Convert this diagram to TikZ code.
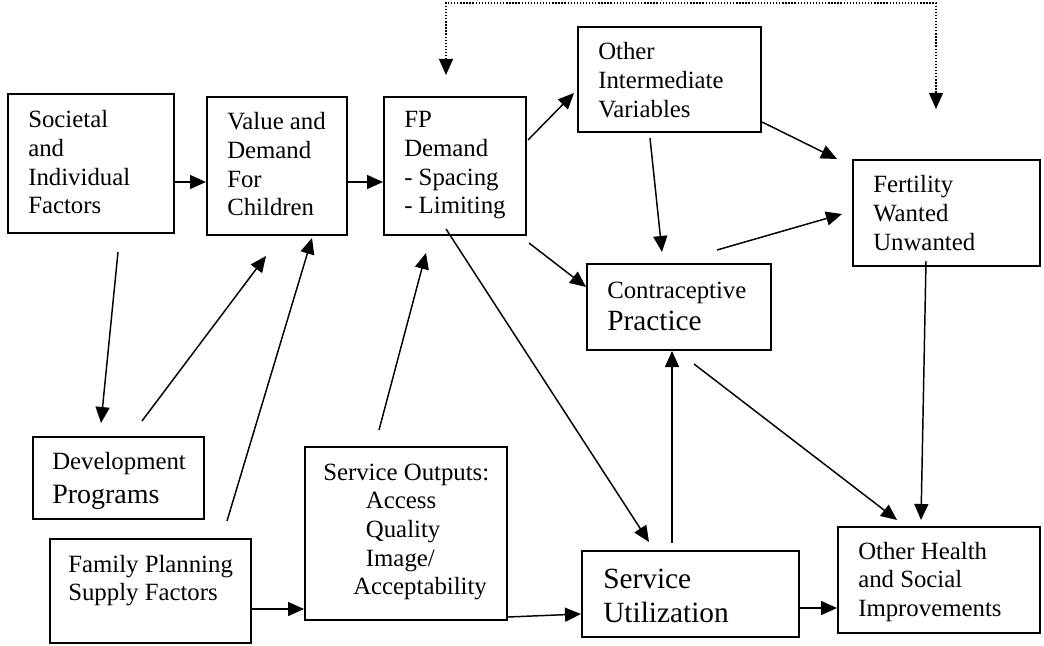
\documentclass[tikz,border=0pt]{standalone}
\usepackage{fontspec}
\setmainfont{Liberation Serif}
\usetikzlibrary{arrows.meta,fit,calc}
\newcommand\lns[1]{\begin{tabular}[t]{@{}l@{}}#1\end{tabular}}
\begin{document}
\begin{tikzpicture}[x=0.75pt,y=-0.75pt,
  boxst/.style={draw, line width=1.5pt, inner sep=0pt},
  txtst/.style={anchor=base west, inner sep=0pt, font=\fontsize{18.6pt}{21.5pt}\selectfont},
  arr/.style={line width=1.1pt, -{Triangle[length=12pt,width=10.5pt]}},
  dotarr/.style={line width=1pt, dash pattern=on 1pt off 1.3pt,
    {Triangle[length=12pt,width=10.5pt]}-{Triangle[length=12pt,width=10.5pt]}}]
\useasboundingbox (0,0) rectangle (1044,645);
% boxes
\node[boxst, fit={(8,94) (174,233)}] (A) {};
\node[boxst, fit={(207,97) (347,235)}] (B) {};
\node[boxst, fit={(384,97) (526,235)}] (FP) {};
\node[boxst, fit={(578,27) (761,132)}] (OIV) {};
\node[boxst, fit={(853,160) (1040,266)}] (FE) {};
\node[boxst, fit={(587,264) (771,350)}] (CP) {};
\node[boxst, fit={(33,437) (204,519)}] (DP) {};
\node[boxst, fit={(50,539) (251,643)}] (FPS) {};
\node[boxst, fit={(305,447) (507,620)}] (SO) {};
\node[boxst, fit={(582,551) (799,637)}] (SU) {};
\node[boxst, fit={(838,527) (1040,633)}] (OH) {};
% texts
\node[txtst] (tA) at (28,128) {\lns{Societal\\and\\Individual\\Factors}};
\node[txtst] (tB) at (227,130) {\lns{Value and\\Demand\\For\\Children}};
\node[txtst] (tFP) at (404,128) {\lns{FP\\Demand\\- Spacing\\- Limiting}};
\node[txtst] (tOIV) at (598,60) {\lns{Other\\Intermediate\\Variables}};
\node[txtst] (tFE) at (873,193) {\lns{Fertility\\Wanted\\Unwanted}};
\node[txtst] (tCP) at (607,298) {\lns{Contraceptive\\[3pt]{\fontsize{22pt}{26pt}\selectfont Practice}}};
\node[txtst] (tDP) at (52,469) {\lns{Development\\[4pt]{\fontsize{21pt}{25pt}\selectfont Programs}}};
\node[txtst] (tFPS) at (68,572) {\lns{Family Planning\\Supply Factors}};
\node[txtst] (tSO) at (323,480) {\lns{Service Outputs:\\\hspace*{32pt}Access\\\hspace*{32pt}Quality\\\hspace*{32pt}Image/\\\hspace*{22.5pt}Acceptability}};
\node[txtst, font=\fontsize{22pt}{25.5pt}\selectfont] (tSU) at (603,588) {\lns{Service\\Utilization}};
\node[txtst] (tOH) at (858,559) {\lns{Other Health\\and Social\\Improvements}};
% connectors
\draw[arr] (A.east |- 0,182) -- (B.west |- 0,182);
\draw[arr] (B.east |- 0,182) -- (FP.west |- 0,182);
\draw[arr] ($(FP.east)+(1,-26)$) -- ($(OIV.west)+(-3,13.5)$);
\draw[arr] ($(OIV.east)+(0,42.5)$) -- ($(FE.north west)+(-15,0)$);
\draw[arr] ($(OIV.south west)+(73,5)$) -- ($(CP.north west)+(76,-11)$);
\draw[arr] ($(CP.north west)+(131,-13)$) -- ($(FE.west)+(-10,1)$);
\draw[arr] ($(FE.south west)+(74,-6)$) -- ($(OH.north west)+(84,-6)$);
\draw[arr] ($(SU.north west)+(91,-7)$) -- ($(CP.south west)+(86,0)$);
\draw[arr] ($(CP.south west)+(108,13)$) -- ($(OH.north west)+(60,-6)$);
\draw[arr] ($(FP.south west)+(63,-7)$) -- ($(SU.north west)+(68,-8)$);
\draw[arr] ($(FP.south east)+(2,7)$) -- ($(CP.north west)+(0,24)$);
\draw[arr] (SU.east |- 0,608) -- (OH.west |- 0,608);
\draw[arr] (FPS.east |- 0,609) -- (SO.west |- 0,609);
\draw[arr] (SO.east |- 0,617) -- (SU.west |- 0,614);
\draw[arr] ($(A.south west)+(111,18)$) -- ($(DP.north west)+(69,-13)$);
\draw[arr] ($(DP.north west)+(110,-15)$) -- ($(B.south west)+(60,20)$);
\draw[arr] ($(FPS.north west)+(178,-17)$) -- ($(B.south west)+(106,2)$);
\draw[arr] ($(SO.north west)+(75,-16)$) -- ($(FP.south west)+(43,17)$);
% dotted feedback
\coordinate (dL) at ($(FP.north west)+(63,-21)$);
\coordinate (dR) at ($(FE.north west)+(84,-50)$);
\coordinate (dtop) at (0,3);
\draw[dotarr] (dL) -- (dL |- dtop) -- (dR |- dtop) -- (dR);
\end{tikzpicture}
\end{document}
